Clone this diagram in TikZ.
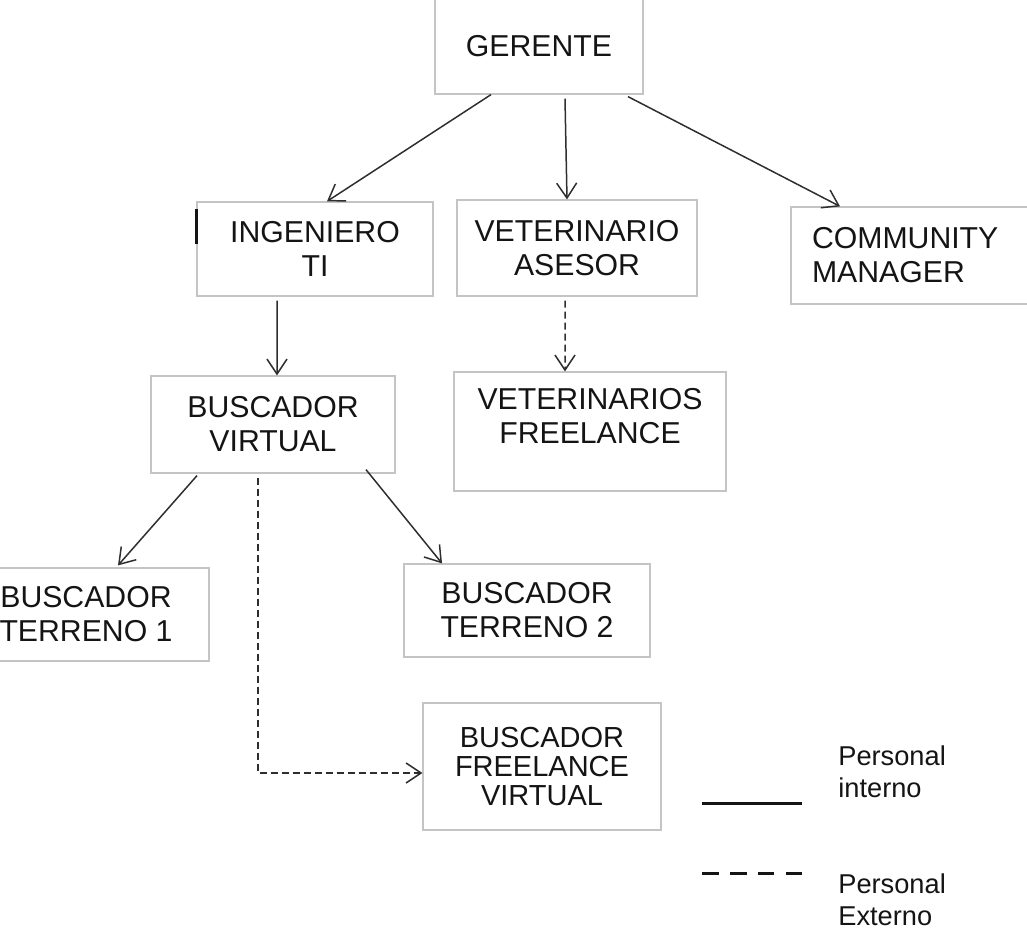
\documentclass[tikz,border=0pt]{standalone}
\usepackage{fontspec}
\setmainfont{Liberation Sans}
\usepackage{xcolor}
\usepackage{tikz}
\usetikzlibrary{arrows.meta, positioning}
\definecolor{boxgray}{HTML}{C4C4C4}
\definecolor{linegray}{HTML}{2E2E2E}
\definecolor{inkblack}{HTML}{141414}

\begin{document}
\begin{tikzpicture}[
  x=0.02cm, y=-0.02cm,
  orgbox/.style={rectangle, draw=boxgray, line width=0.7pt, align=center, text=inkblack, inner sep=0pt, font=\fontsize{17.2}{19.3}\selectfont},
  arrow/.style={-{Straight Barb[length=0.3cm,width=0.4cm]}, line width=0.85pt, color=linegray},
  extarrow/.style={arrow, dash pattern=on 0.14cm off 0.08cm},
  legline/.style={line width=1.7pt, color=inkblack},
  legtext/.style={align=left, anchor=north west, inner sep=0pt, text=inkblack, font=\fontsize{15.5}{18.2}\selectfont}
]
  \useasboundingbox (0,0) rectangle (1027,939);

  % Top level
  \node[orgbox, minimum width=4.16cm, minimum height=1.92cm] (ger) at (539,46) {GERENTE};

  % Second level
  \node[orgbox, minimum width=4.72cm, minimum height=1.88cm] (ing) at (315,249) {INGENIERO\\TI};
  \node[orgbox, minimum width=4.8cm, minimum height=1.92cm] (vet) at (577,248) {VETERINARIO\\ASESOR};
  \node[orgbox, align=left, text width=4.14cm, inner xsep=0.42cm, minimum height=1.94cm] (com) at (915.5,255.5) {COMMUNITY\\MANAGER};

  % Third level
  \node[orgbox, minimum width=4.88cm, minimum height=1.94cm] (bv) at (273,424.5) {BUSCADOR\\VIRTUAL};
  \node[orgbox, text depth=0.64cm, minimum width=5.44cm, minimum height=2.38cm] (vf) at (590,431.5) {VETERINARIOS\\FREELANCE};

  % Field and freelance searchers
  \node[orgbox, minimum width=4.92cm, minimum height=1.86cm] (t1) at (86,614.5) {BUSCADOR\\TERRENO 1};
  \node[orgbox, minimum width=4.92cm, minimum height=1.86cm] (t2) at (527,610.5) {BUSCADOR\\TERRENO 2};
  \node[orgbox, font=\fontsize{16.5}{16.5}\selectfont, minimum width=4.76cm, minimum height=2.54cm] (bfv) at (542,766.5) {BUSCADOR\\FREELANCE\\VIRTUAL};

  % Arrows
  \draw[arrow] ([xshift=-0.96cm]ger.south) -- ([xshift=0.24cm]ing.north);
  \draw[arrow] ([xshift=0.52cm,yshift=-0.08cm]ger.south) -- ([xshift=-0.2cm]vet.north);
  \draw[arrow] ([xshift=1.78cm,yshift=-0.04cm]ger.south) -- ([xshift=-1.51cm]com.north);
  \draw[arrow] ([xshift=-0.76cm,yshift=-0.08cm]ing.south) -- ([xshift=0.08cm]bv.north);
  \draw[extarrow] ([xshift=-0.24cm,yshift=-0.08cm]vet.south) -- ([xshift=-0.5cm]vf.north);
  \draw[arrow] ([xshift=-1.52cm,yshift=-0.04cm]bv.south) -- ([xshift=0.64cm,yshift=0.04cm]t1.north);
  \draw[arrow] ([xshift=1.86cm,yshift=0.08cm]bv.south) -- ([xshift=-1.7cm]t2.north);
  \draw[extarrow] ([xshift=-0.3cm,yshift=-0.08cm]bv.south) |- ([yshift=-0.13cm]bfv.west);

  % Mark on the left edge
  \draw[line width=1.4pt, color=inkblack] ([yshift=-0.16cm]ing.north west) -- ++(0,35);

  % Legend
  \coordinate (solidA) at (702,803);
  \coordinate (solidB) at (802,803);
  \coordinate (dashA) at (702,873);
  \coordinate (dashB) at (802,873);
  \draw[legline] (solidA) -- (solidB);
  \draw[legline, dash pattern=on 0.33cm off 0.23cm] (dashA) -- (dashB);
  \node[legtext] (intlabel) at (838,745) {Personal\\interno};
  \node[legtext] (extlabel) at (838,873) {Personal\\Externo};
\end{tikzpicture}
\end{document}
